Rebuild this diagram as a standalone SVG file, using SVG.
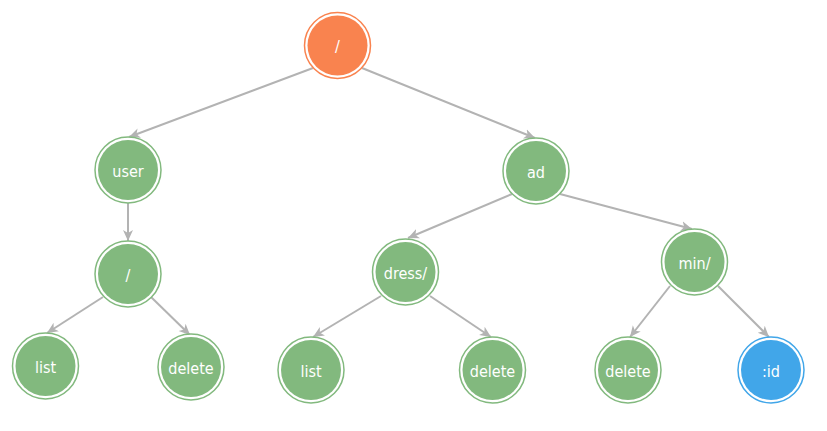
<svg xmlns="http://www.w3.org/2000/svg" width="827" height="431" viewBox="0 0 827 431">
<style>
.ring{fill:#fff;stroke-width:1.5}
.g .ring{stroke:#82b97e}.g .core{fill:#82b97e}
.o .ring{stroke:#f9834f}.o .core{fill:#f9834f}
.b .ring{stroke:#41a6e9}.b .core{fill:#41a6e9}
text{font-family:"DejaVu Sans Condensed","DejaVu Sans",sans-serif;font-stretch:condensed;font-size:16px;fill:#fff;text-anchor:middle}
.edge{stroke:#b3b3b3;stroke-width:2;fill:none;marker-end:url(#arr)}
</style>
<defs>
<marker id="arr" markerUnits="userSpaceOnUse" markerWidth="12" markerHeight="12" viewBox="0 0 12 12" refX="11" refY="6" orient="auto">
<path d="M0,1 L11,6 L0,11 L3,6 z" fill="#b3b3b3"/>
</marker>
</defs>
<rect width="827" height="431" fill="#fff"/>
<g id="connectors">
<line class="edge" x1="313" y1="68" x2="129" y2="137"/>
<line class="edge" x1="362" y1="68" x2="535" y2="138"/>
<line class="edge" x1="128" y1="203" x2="128" y2="241"/>
<line class="edge" x1="103" y1="297" x2="47" y2="333"/>
<line class="edge" x1="151" y1="297" x2="190" y2="335"/>
<line class="edge" x1="512" y1="194" x2="408" y2="238"/>
<line class="edge" x1="560" y1="194" x2="692" y2="229"/>
<line class="edge" x1="381" y1="296" x2="313" y2="337"/>
<line class="edge" x1="430" y1="296" x2="491" y2="337"/>
<line class="edge" x1="670" y1="286" x2="630" y2="337"/>
<line class="edge" x1="718" y1="286" x2="769" y2="337"/>
</g>
<g id="n-root" class="o"><circle class="ring" cx="337.5" cy="45.5" r="33"/><circle class="core" cx="337.5" cy="45.5" r="30"/><text x="337.5" y="52">/</text></g>
<g id="n-user" class="g"><circle class="ring" cx="128" cy="170" r="33"/><circle class="core" cx="128" cy="170" r="30"/><text x="128" y="176.5">user</text></g>
<g id="n-ad" class="g"><circle class="ring" cx="536" cy="171" r="33"/><circle class="core" cx="536" cy="171" r="30"/><text x="536" y="177.5">ad</text></g>
<g id="n-user-slash" class="g"><circle class="ring" cx="128" cy="274" r="33"/><circle class="core" cx="128" cy="274" r="30"/><text x="128" y="280.5">/</text></g>
<g id="n-list1" class="g"><circle class="ring" cx="45.5" cy="366" r="33"/><circle class="core" cx="45.5" cy="366" r="30"/><text x="45.5" y="372.5">list</text></g>
<g id="n-delete1" class="g"><circle class="ring" cx="191" cy="367" r="33"/><circle class="core" cx="191" cy="367" r="30"/><text x="191" y="373.5">delete</text></g>
<g id="n-dress" class="g"><circle class="ring" cx="405.5" cy="272" r="33"/><circle class="core" cx="405.5" cy="272" r="30"/><text x="405.5" y="278.5">dress/</text></g>
<g id="n-list2" class="g"><circle class="ring" cx="311" cy="370" r="33"/><circle class="core" cx="311" cy="370" r="30"/><text x="311" y="376.5">list</text></g>
<g id="n-delete2" class="g"><circle class="ring" cx="492.5" cy="370" r="33"/><circle class="core" cx="492.5" cy="370" r="30"/><text x="492.5" y="376.5">delete</text></g>
<g id="n-min" class="g"><circle class="ring" cx="694.5" cy="262" r="33"/><circle class="core" cx="694.5" cy="262" r="30"/><text x="694.5" y="268.5">min/</text></g>
<g id="n-delete3" class="g"><circle class="ring" cx="628" cy="370" r="33"/><circle class="core" cx="628" cy="370" r="30"/><text x="628" y="376.5">delete</text></g>
<g id="n-id" class="b"><circle class="ring" cx="771" cy="370" r="33"/><circle class="core" cx="771" cy="370" r="30"/><text x="771" y="376.5">:id</text></g>
</svg>
